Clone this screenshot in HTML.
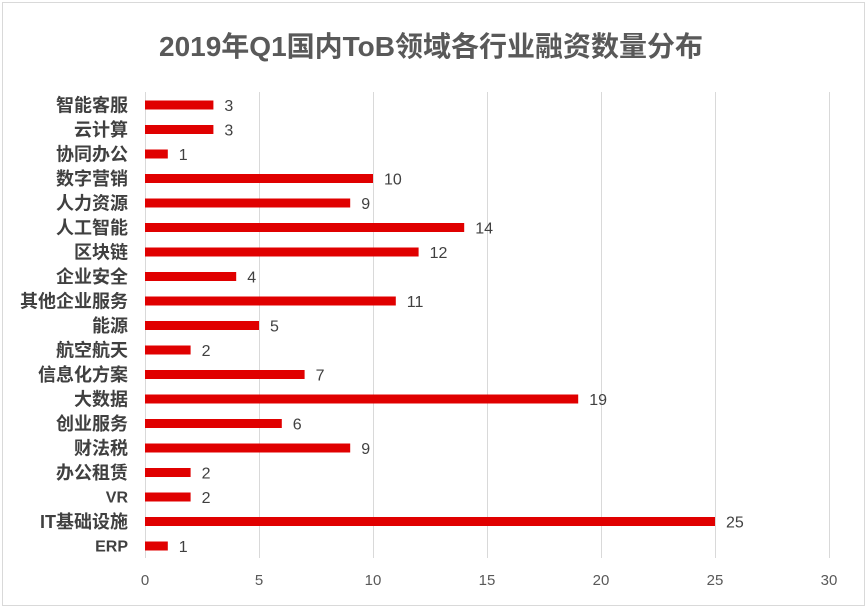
<!DOCTYPE html>
<html><head><meta charset="utf-8"><style>
html,body{margin:0;padding:0;background:#fff}
svg{display:block}
text{font-family:"Liberation Sans","Noto Sans CJK SC",sans-serif}
.l{font-size:18px;font-weight:bold;fill:#404040;text-anchor:end}
.s{font-size:16px;font-weight:bold;fill:#404040;text-anchor:end}
.v{font-size:16px;fill:#404040}
</style></head><body>
<svg width="867" height="608" viewBox="0 0 867 608" xmlns="http://www.w3.org/2000/svg">
<rect x="2.5" y="2.5" width="862" height="603" fill="#fff" stroke="#d9d9d9" stroke-width="1"/>
<text x="431" y="56" text-anchor="middle" font-size="28" font-weight="bold" fill="#595959">2019年Q1国内ToB领域各行业融资数量分布</text>
<g stroke="#d9d9d9" stroke-width="1">
<line x1="145.5" y1="92" x2="145.5" y2="558"/>
<line x1="259.5" y1="92" x2="259.5" y2="558"/>
<line x1="373.5" y1="92" x2="373.5" y2="558"/>
<line x1="487.5" y1="92" x2="487.5" y2="558"/>
<line x1="601.5" y1="92" x2="601.5" y2="558"/>
<line x1="715.5" y1="92" x2="715.5" y2="558"/>
<line x1="829.5" y1="92" x2="829.5" y2="558"/>
</g>
<g font-size="15" fill="#595959" text-anchor="middle">
<text x="145" y="585">0</text><text x="259" y="585">5</text><text x="373" y="585">10</text><text x="487" y="585">15</text><text x="601" y="585">20</text><text x="715" y="585">25</text><text x="829" y="585">30</text>
</g>
<g fill="#e00000">
<rect x="145" y="100.5" width="68.4" height="9"/>
<rect x="145" y="125" width="68.4" height="9"/>
<rect x="145" y="149.5" width="22.8" height="9"/>
<rect x="145" y="174" width="228" height="9"/>
<rect x="145" y="198.5" width="205.2" height="9"/>
<rect x="145" y="223" width="319.2" height="9"/>
<rect x="145" y="247.5" width="273.6" height="9"/>
<rect x="145" y="272" width="91.2" height="9"/>
<rect x="145" y="296.5" width="250.8" height="9"/>
<rect x="145" y="321" width="114" height="9"/>
<rect x="145" y="345.5" width="45.6" height="9"/>
<rect x="145" y="370" width="159.6" height="9"/>
<rect x="145" y="394.5" width="433.2" height="9"/>
<rect x="145" y="419" width="136.8" height="9"/>
<rect x="145" y="443.5" width="205.2" height="9"/>
<rect x="145" y="468" width="45.6" height="9"/>
<rect x="145" y="492.5" width="45.6" height="9"/>
<rect x="145" y="517" width="570" height="9"/>
<rect x="145" y="541.5" width="22.8" height="9"/>
</g>
<text class="l" x="128" y="111.5">智能客服</text>
<text class="l" x="128" y="136">云计算</text>
<text class="l" x="128" y="160.5">协同办公</text>
<text class="l" x="128" y="185">数字营销</text>
<text class="l" x="128" y="209.5">人力资源</text>
<text class="l" x="128" y="234">人工智能</text>
<text class="l" x="128" y="258.5">区块链</text>
<text class="l" x="128" y="283">企业安全</text>
<text class="l" x="128" y="307.5">其他企业服务</text>
<text class="l" x="128" y="332">能源</text>
<text class="l" x="128" y="356.5">航空航天</text>
<text class="l" x="128" y="381">信息化方案</text>
<text class="l" x="128" y="405.5">大数据</text>
<text class="l" x="128" y="430">创业服务</text>
<text class="l" x="128" y="454.5">财法税</text>
<text class="l" x="128" y="479">办公租赁</text>
<text class="s" x="128" y="502.5">VR</text>
<text class="l" x="128" y="528">IT基础设施</text>
<text class="s" x="128" y="551.5">ERP</text>
<text class="v" x="224.4" y="111">3</text>
<text class="v" x="224.4" y="135.5">3</text>
<text class="v" x="178.8" y="160">1</text>
<text class="v" x="384" y="184.5">10</text>
<text class="v" x="361.2" y="209">9</text>
<text class="v" x="475.2" y="233.5">14</text>
<text class="v" x="429.6" y="258">12</text>
<text class="v" x="247.2" y="282.5">4</text>
<text class="v" x="406.8" y="307">11</text>
<text class="v" x="270" y="331.5">5</text>
<text class="v" x="201.6" y="356">2</text>
<text class="v" x="315.6" y="380.5">7</text>
<text class="v" x="589.2" y="405">19</text>
<text class="v" x="292.8" y="429.5">6</text>
<text class="v" x="361.2" y="454">9</text>
<text class="v" x="201.6" y="478.5">2</text>
<text class="v" x="201.6" y="503">2</text>
<text class="v" x="726" y="527.5">25</text>
<text class="v" x="178.8" y="552">1</text>
</svg>
</body></html>
